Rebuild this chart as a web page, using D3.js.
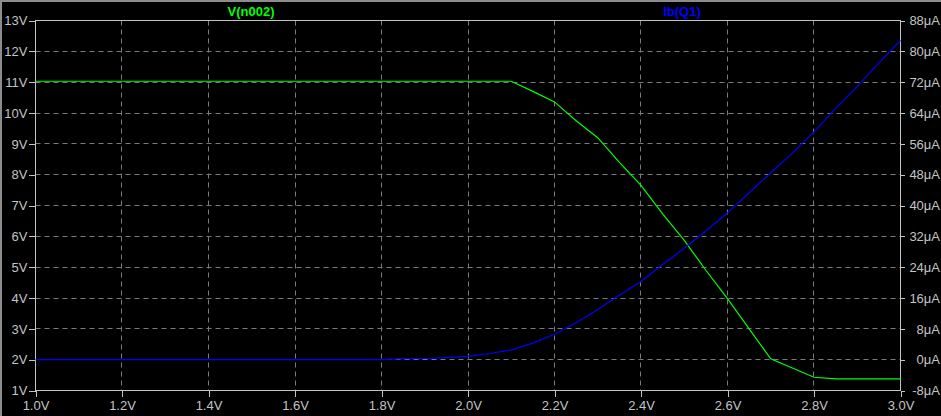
<!DOCTYPE html>
<html>
<head>
<meta charset="utf-8">
<script src="https://cdn.jsdelivr.net/npm/d3@7"></script>
<style>
  html, body { margin: 0; padding: 0; background: #000; }
  svg { display: block; }
  text { font-family: "Liberation Sans", Arial, sans-serif; }
</style>
</head>
<body>
<svg id="chart" width="941" height="416"></svg>
<script>
// ---- data ----
const vin = [1.00, 1.05, 1.10, 1.15, 1.20, 1.25, 1.30, 1.35, 1.40, 1.45,
             1.50, 1.55, 1.60, 1.65, 1.70, 1.75, 1.80, 1.85, 1.90, 1.95,
             2.00, 2.05, 2.10, 2.15, 2.20, 2.25, 2.30, 2.35, 2.40, 2.45,
             2.50, 2.55, 2.60, 2.65, 2.70, 2.75, 2.80, 2.85, 2.90, 2.95, 3.00];
const vn002 = [11.03, 11.03, 11.03, 11.03, 11.03, 11.03, 11.03, 11.03, 11.03, 11.03,
               11.03, 11.03, 11.03, 11.03, 11.03, 11.03, 11.03, 11.03, 11.03, 11.03,
               11.03, 11.03, 11.03, 10.70, 10.36, 9.75, 9.20, 8.40, 7.65, 6.73,
               5.87, 4.90, 3.98, 3.00, 2.03, 1.73, 1.43, 1.38, 1.38, 1.38, 1.38];
const ibQ1 = [0, 0, 0, 0, 0, 0, 0, 0, 0, 0,
              0, 0, 0, 0, 0, 0, 0, 0.25, 0.30, 0.55,
              0.85, 1.60, 2.55, 4.30, 6.60, 9.50, 13.0, 16.7, 20.3, 24.7,
              28.9, 33.4, 38.1, 43.3, 48.5, 53.6, 59.1, 65.2, 70.9, 77.0, 82.8];
const xTicks = [1.0, 1.2, 1.4, 1.6, 1.8, 2.0, 2.2, 2.4, 2.6, 2.8, 3.0];
const yLeftTicks = [1, 2, 3, 4, 5, 6, 7, 8, 9, 10, 11, 12, 13];
const yRightTicks = [-8, 0, 8, 16, 24, 32, 40, 48, 56, 64, 72, 80, 88];
const seriesNames = ["V(n002)", "Ib(Q1)"];

// ---- layout ----
const L = 35.5, R = 900.5, T = 20.5, B = 390.5;
const svg = d3.select("#chart");
svg.append("rect").attr("width", 941).attr("height", 416).attr("fill", "#000");
// window border (top & left)
svg.append("rect").attr("x", 0).attr("y", 0).attr("width", 941).attr("height", 2).attr("fill", "#8c8c8c");
svg.append("rect").attr("x", 0).attr("y", 0).attr("width", 2).attr("height", 416).attr("fill", "#8c8c8c");

const x = d3.scaleLinear().domain([1, 3]).range([L, R]);
const yL = d3.scaleLinear().domain([1, 13]).range([B, T]);
const yR = d3.scaleLinear().domain([-8, 88]).range([B, T]);

const axisCol = "#c4c4c4";
const gridCol = "#7a7a7a";
const snap = v => Math.round(v - 0.5) + 0.5;

// grid
const grid = svg.append("g");
xTicks.slice(1, -1).forEach(t => {
  grid.append("line").attr("x1", snap(x(t))).attr("x2", snap(x(t)))
    .attr("y1", T).attr("y2", B).attr("stroke", gridCol).attr("stroke-dasharray", "5,4");
});
yLeftTicks.slice(1, -1).forEach(t => {
  grid.append("line").attr("y1", snap(yL(t))).attr("y2", snap(yL(t)))
    .attr("x1", L).attr("x2", R).attr("stroke", gridCol).attr("stroke-dasharray", "5,4");
});

// axes
const fmtX = d => d.toFixed(1) + "V";
const gx = svg.append("g").attr("transform", `translate(0,${B})`)
  .call(d3.axisBottom(x).tickValues(xTicks).tickFormat(fmtX).tickSize(6).tickPadding(4));
const gl = svg.append("g").attr("transform", `translate(${L},0)`)
  .call(d3.axisLeft(yL).tickValues(yLeftTicks).tickFormat(d => d + "V").tickSize(7).tickPadding(1));
const gr = svg.append("g").attr("transform", `translate(${R},0)`)
  .call(d3.axisRight(yR).tickValues(yRightTicks).tickFormat(d => d + "\u03bcA").tickSize(4).tickPadding(6));

[gx, gl, gr].forEach(g => {
  g.select(".domain").remove();
  g.selectAll("line").attr("stroke", axisCol).attr("shape-rendering", "crispEdges");
  g.selectAll("text").attr("fill", axisCol).style("font-size", "13px")
    .style("font-family", "'Liberation Sans', Arial, sans-serif");
});
gr.selectAll("text").attr("text-anchor", "end").attr("x", 940 - R);
gx.selectAll("text").attr("dy", "0.75em");

// frame
svg.append("rect").attr("x", L).attr("y", T).attr("width", R - L).attr("height", B - T)
  .attr("fill", "none").attr("stroke", axisCol).attr("stroke-width", 1);

// traces
const pts = vin.map((v, i) => ({ v, a: vn002[i], b: ibQ1[i] }));
svg.append("path").datum(pts)
  .attr("d", d3.line().x(d => x(d.v)).y(d => yL(d.a)))
  .attr("fill", "none").attr("stroke", "#00ff00").attr("stroke-width", 1.2);
svg.append("path").datum(pts)
  .attr("d", d3.line().x(d => x(d.v)).y(d => yR(d.b)))
  .attr("fill", "none").attr("stroke", "#0000ff").attr("stroke-width", 1.2);

// legend
svg.append("text").attr("x", 251).attr("y", 16).attr("text-anchor", "middle")
  .attr("fill", "#00ff00").style("font-size", "13px").style("font-weight", "bold").text(seriesNames[0]);
svg.append("text").attr("x", 682).attr("y", 16).attr("text-anchor", "middle")
  .attr("fill", "#0000ff").style("font-size", "13px").style("font-weight", "bold").text(seriesNames[1]);
</script>
</body>
</html>
